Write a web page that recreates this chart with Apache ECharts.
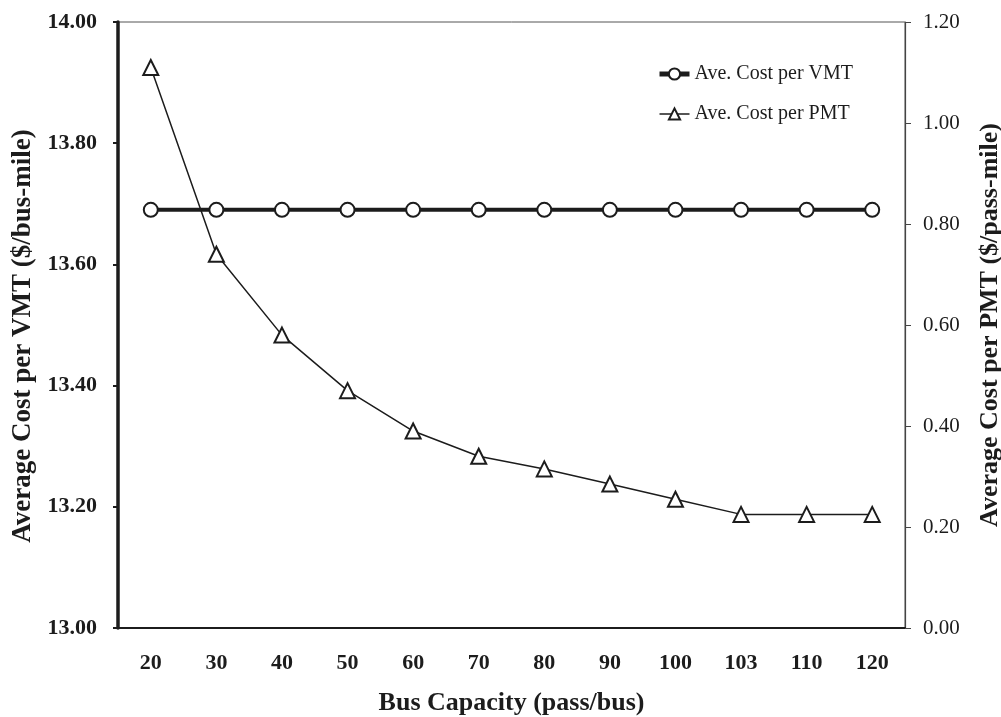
<!DOCTYPE html>
<html>
<head>
<meta charset="utf-8">
<script src="https://cdn.jsdelivr.net/npm/echarts@6/dist/echarts.min.js"></script>
<style>
  html, body { margin: 0; padding: 0; background: #fff; }
  #chart { width: 1001px; height: 717px; }
</style>
</head>
<body>
<div id="chart"></div>
<script>
// Bus capacity scenarios (pass/bus)
const capacities = ['20', '30', '40', '50', '60', '70', '80', '90', '100', '103', '110', '120'];
// Average cost per vehicle-mile ($/bus-mile), left axis
const costPerVMT = [13.69, 13.69, 13.69, 13.69, 13.69, 13.69, 13.69, 13.69, 13.69, 13.69, 13.69, 13.69];
// Average cost per passenger-mile ($/pass-mile), right axis
const costPerPMT = [1.11, 0.74, 0.58, 0.47, 0.39, 0.34, 0.315, 0.285, 0.255, 0.225, 0.225, 0.225];

const FONT = '"Liberation Serif", "Times New Roman", serif';
const INK = '#1c1c1c';

const chart = echarts.init(document.getElementById('chart'), null, { renderer: 'canvas' });

chart.setOption({
  backgroundColor: '#fff',
  animation: false,
  grid: {
    left: 118, right: 96, top: 22, bottom: 89,
    outerBoundsMode: 'none',
    containLabel: false,
    show: true, borderColor: '#555', borderWidth: 1
  },
  legend: {
    orient: 'vertical',
    right: 143, top: 59,
    itemGap: 20,
    itemWidth: 30, itemHeight: 14,
    textStyle: { fontFamily: FONT, fontSize: 20, color: INK },
    data: [
      { name: 'Ave. Cost per VMT', lineStyle: { width: 5, color: INK } },
      { name: 'Ave. Cost per PMT', lineStyle: { width: 1.5, color: INK } }
    ]
  },
  xAxis: {
    type: 'category',
    data: capacities,
    boundaryGap: true,
    name: 'Bus Capacity (pass/bus)',
    nameLocation: 'middle',
    nameGap: 62,
    nameTextStyle: { fontFamily: FONT, fontSize: 26, fontWeight: 'bold', color: INK },
    axisLine: { lineStyle: { color: INK, width: 2 } },
    axisTick: { alignWithLabel: true, length: 4, lineStyle: { color: INK } },
    axisLabel: { fontFamily: FONT, fontSize: 22, fontWeight: 'bold', color: INK, margin: 24 },
    splitLine: { show: false }
  },
  yAxis: [
    {
      type: 'value',
      min: 13.0, max: 14.0, interval: 0.2,
      position: 'left',
      name: 'Average Cost per VMT ($/bus-mile)',
      nameLocation: 'middle',
      nameRotate: 90,
      nameGap: 80,
      nameTextStyle: {
        fontFamily: FONT, fontSize: 27, fontWeight: 'bold', color: INK,
        padding: [0, 22, 0, 0]
      },
      axisLine: { show: true, lineStyle: { color: INK, width: 3.5 } },
      axisTick: { show: true, length: 5, lineStyle: { color: INK, width: 2 } },
      axisLabel: {
        fontFamily: FONT, fontSize: 22, fontWeight: 'bold', color: INK, margin: 21,
        formatter: v => v.toFixed(2)
      },
      splitLine: { show: false }
    },
    {
      type: 'value',
      min: 0, max: 1.2, interval: 0.2,
      position: 'right',
      name: 'Average Cost per PMT ($/pass-mile)',
      nameLocation: 'middle',
      nameRotate: 90,
      nameGap: 72,
      nameTextStyle: { fontFamily: FONT, fontSize: 26, fontWeight: 'bold', color: INK },
      axisLine: { show: true, lineStyle: { color: '#444', width: 1.2 } },
      axisTick: { show: true, length: 6, lineStyle: { color: '#444', width: 1 } },
      axisLabel: {
        fontFamily: FONT, fontSize: 21, color: INK, margin: 18,
        formatter: v => v.toFixed(2)
      },
      splitLine: { show: false }
    }
  ],
  series: [
    {
      name: 'Ave. Cost per VMT',
      type: 'line',
      yAxisIndex: 0,
      data: costPerVMT,
      symbol: 'emptyCircle',
      symbolSize: 14,
      lineStyle: { color: INK, width: 4 },
      itemStyle: { color: INK, borderColor: INK, borderWidth: 1.6 },
      z: 3
    },
    {
      name: 'Ave. Cost per PMT',
      type: 'line',
      yAxisIndex: 1,
      data: costPerPMT,
      symbol: 'emptyTriangle',
      symbolSize: 15,
      lineStyle: { color: INK, width: 1.5 },
      itemStyle: { color: INK, borderColor: INK, borderWidth: 1.4 },
      z: 4
    }
  ]
});
</script>
</body>
</html>
